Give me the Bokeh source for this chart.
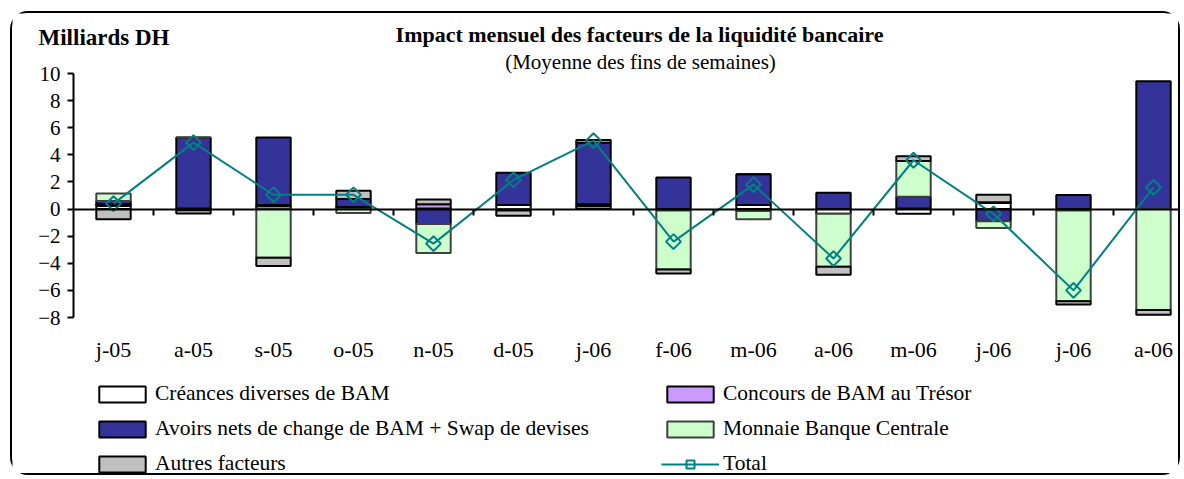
import math
from bokeh.plotting import figure
from bokeh.models import (ColumnDataSource, FixedTicker, LinearAxis, Range1d, Legend,
                          LegendItem, Label)
from bokeh.embed import file_html
from bokeh.resources import INLINE

# ---- data (Milliards DH) ----
categories = ["j-05", "a-05", "s-05", "o-05", "n-05", "d-05", "j-06",
              "f-06", "m-06", "a-06", "m-06", "j-06", "j-06", "a-06"]
creances = [0.25, 0.05, 0.2, 0.1, 0.05, 0.3, 0.2, -0.1, 0.3, -0.35, -0.35, 0.45, -0.1, 0.0]
concours = [0.1, -0.08, 0.1, 0.05, 0.3, 0.0, 0.15, 0.0, -0.15, 0.0, 0.05, 0.05, 0.0, 0.0]
avoirs = [0.25, 5.23, 4.98, 0.6, -1.1, 2.38, 4.55, 2.33, 2.26, 1.2, 0.85, -0.9, 1.03, 9.43]
monnaie = [0.55, 0.0, -3.6, -0.3, -2.15, -0.1, 0.0, -4.35, -0.6, -3.9, 2.65, -0.5, -6.7, -7.45]
autres = [-0.75, -0.25, -0.6, 0.6, 0.35, -0.4, 0.2, -0.3, 0.0, -0.6, 0.35, 0.55, -0.25, -0.35]
total = [0.4, 4.9, 1.05, 1.05, -2.55, 2.15, 5.05, -2.4, 1.8, -3.65, 3.6, -0.35, -6.0, 1.6]
y_ticks = [-8, -6, -4, -2, 0, 2, 4, 6, 8, 10]

series = [
    ("Créances diverses de BAM", creances, "#FFFFFF", "#000000"),
    ("Concours de BAM au Trésor", concours, "#CC99FF", "#000000"),
    ("Avoirs nets de change de BAM + Swap de devises", avoirs, "#333399", "#000000"),
    ("Monnaie Banque Centrale", monnaie, "#CCFFCC", "#404040"),
    ("Autres facteurs", autres, "#C0C0C0", "#000000"),
]

FONT = "Liberation Serif"
xs = list(range(len(categories)))

# canvas geometry (page pixels)
W, H = 1170, 464
OX, OY = 12, 13          # canvas origin on the page (margin + 2px border)
PX_X = 80.0              # pixels per category
PX_Y = 244.0 / 18.0      # pixels per unit
Y_TOP_PAGE, X_LEFT_PAGE = 73, 73
y_hi = 10 + (Y_TOP_PAGE - OY) / PX_Y
y_lo = y_hi - H / PX_Y
x_lo = -0.5 - (X_LEFT_PAGE - OX) / PX_X
x_hi = x_lo + W / PX_X

p = figure(width=W, height=H, output_backend="svg", toolbar_location=None,
           x_range=Range1d(x_lo, x_hi), y_range=Range1d(y_lo, y_hi),
           min_border=0, min_border_left=0, min_border_right=0,
           min_border_top=0, min_border_bottom=0)
p.styles = {"border": "2px solid #000000", "border-radius": "18px",
            "margin-left": "10px", "margin-top": "11px"}
p.outline_line_color = None
p.xgrid.visible = False
p.ygrid.visible = False
p.background_fill_color = "#FFFFFF"
p.border_fill_color = "#FFFFFF"

# stacked bars (positive up, negative down, like Excel)
pos_base = [0.0] * len(xs)
neg_base = [0.0] * len(xs)
renderers = {}
for name, vals, fill, line in series:
    bottoms, tops = [], []
    for i, v in enumerate(vals):
        if v >= 0:
            bottoms.append(pos_base[i]); tops.append(pos_base[i] + v); pos_base[i] += v
        else:
            bottoms.append(neg_base[i]); tops.append(neg_base[i] + v); neg_base[i] += v
    src = ColumnDataSource(dict(x=xs, bottom=bottoms, top=tops))
    r = p.vbar(x="x", bottom="bottom", top="top", width=0.43, source=src,
               fill_color=fill, line_color=line, line_width=2)
    renderers[name] = r

tsrc = ColumnDataSource(dict(x=xs, y=total))
tl = p.line("x", "y", source=tsrc, line_color="#008080", line_width=2)
tm = p.scatter("x", "y", source=tsrc, marker="square", angle=math.pi / 4, size=10.5,
               fill_color=None, line_color="#008080", line_width=2)

# x axis drawn at zero (ticks between categories)
xa = p.xaxis[0]
xa.fixed_location = 0
xa.bounds = (-0.5, x_hi)
xa.ticker = FixedTicker(ticks=[i + 0.5 for i in xs[:-1]])
xa.major_label_text_font_size = "0px"
xa.major_tick_in = 0
xa.major_tick_out = 6
xa.major_tick_line_width = 2
xa.axis_line_width = 2
xa.minor_tick_line_color = None

# category labels under the value axis
la = LinearAxis(ticker=FixedTicker(ticks=xs), fixed_location=-8,
                major_label_overrides={i: c for i, c in zip(xs, categories)},
                axis_line_color=None, major_tick_line_color=None,
                minor_tick_line_color=None,
                major_label_text_font=FONT, major_label_text_font_size="22px",
                major_label_text_color="#000000", major_label_standoff=13)
p.add_layout(la, "below")

ya = p.yaxis[0]
ya.fixed_location = -0.5
ya.bounds = (-8, 10)
ya.ticker = FixedTicker(ticks=y_ticks)
ya.major_tick_in = 0
ya.major_tick_out = 6
ya.major_tick_line_width = 2
ya.axis_line_width = 2
ya.minor_tick_line_color = None
ya.major_label_text_font = FONT
ya.major_label_text_font_size = "21px"
ya.major_label_text_color = "#000000"
ya.major_label_standoff = 7

# titles (screen units: from the frame's bottom-left corner)
def sx(page_x):
    return page_x - OX

def sy(page_y):
    return OY + H - page_y

p.add_layout(Label(x=sx(639), y=sy(34), x_units="screen", y_units="screen",
                   text="Impact mensuel des facteurs de la liquidité bancaire",
                   text_font=FONT, text_font_size="22px", text_font_style="bold",
                   text_color="#000000",
                   text_align="center", text_baseline="middle"))
p.add_layout(Label(x=sx(640), y=sy(61), x_units="screen", y_units="screen",
                   text="(Moyenne des fins de semaines)",
                   text_font=FONT, text_font_size="21px", text_color="#000000",
                   text_align="center", text_baseline="middle"))
p.add_layout(Label(x=sx(38), y=sy(37), x_units="screen", y_units="screen",
                   text="Milliards DH", text_font=FONT, text_font_size="23px",
                   text_font_style="bold", text_color="#000000",
                   text_align="left", text_baseline="middle"))

names = [s[0] for s in series]
col1 = [LegendItem(label=names[0], renderers=[renderers[names[0]]]),
        LegendItem(label=names[2], renderers=[renderers[names[2]]]),
        LegendItem(label=names[4], renderers=[renderers[names[4]]])]
col2 = [LegendItem(label=names[1], renderers=[renderers[names[1]]]),
        LegendItem(label=names[3], renderers=[renderers[names[3]]]),
        LegendItem(label="Total", renderers=[tl, tm])]
for items, xpage in ((col1, 93), (col2, 661)):
    lg = Legend(items=items, location=(sx(xpage), sy(476)), orientation="vertical",
                glyph_width=58, glyph_height=20, label_height=25, spacing=10,
                label_standoff=4, padding=0, margin=0, border_line_color=None,
                background_fill_alpha=0, label_text_font=FONT,
                label_text_font_size="21.5px", label_text_color="#000000")
    p.add_layout(lg, "center")

open("out.html", "w").write(file_html(p, INLINE))
